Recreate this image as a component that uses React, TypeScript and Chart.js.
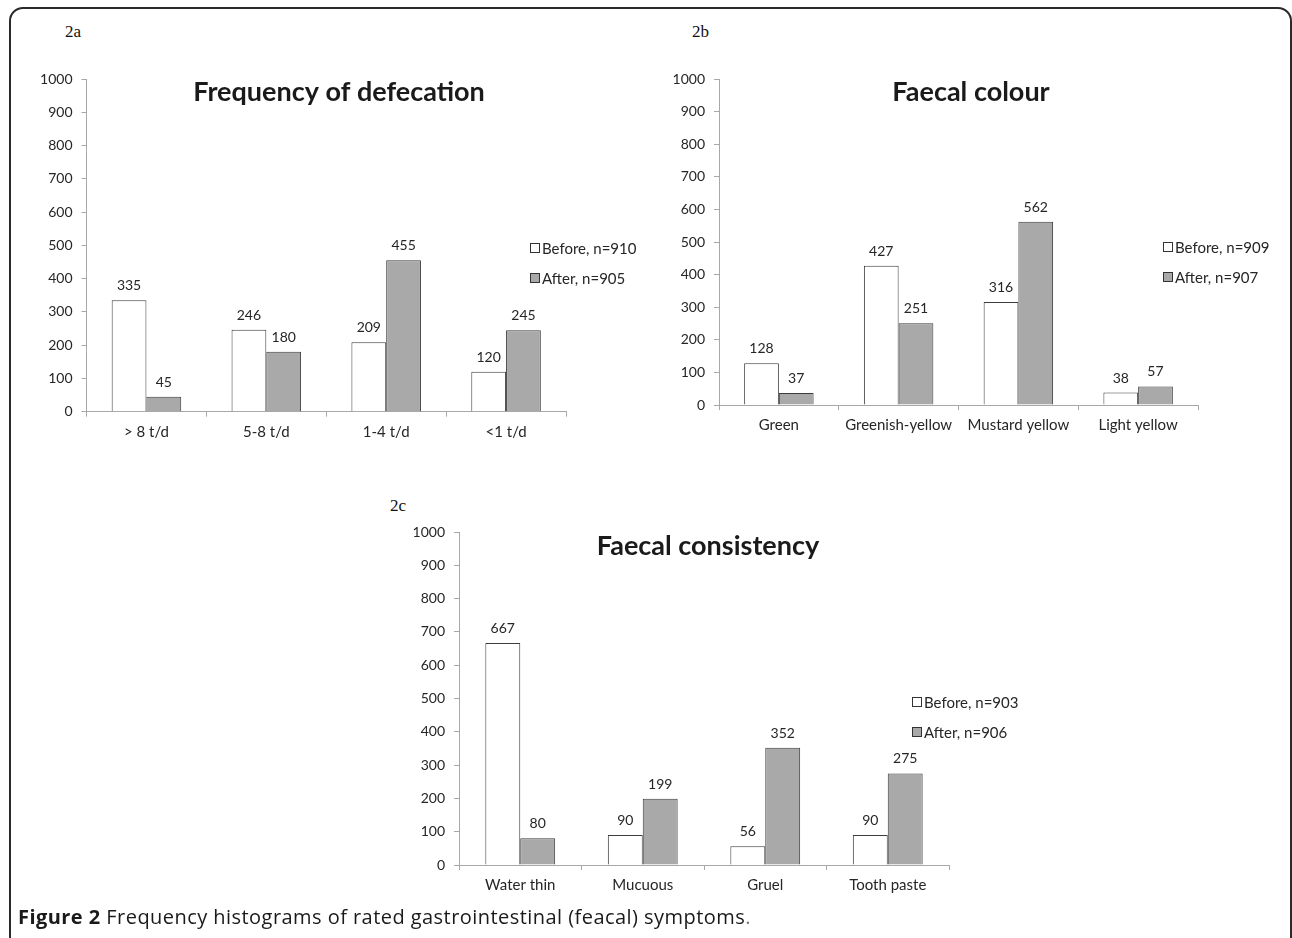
import React, { useEffect, useRef } from "react";
import { Chart, registerables } from "chart.js";

Chart.register(...registerables);

// ---------- data ----------
const categoriesA = ["> 8 t/d", "5-8 t/d", "1-4 t/d", "<1 t/d"];
const beforeA = [335, 246, 209, 120];
const afterA = [45, 180, 455, 245];
const seriesA = ["Before, n=910", "After, n=905"];
const titleA = "Frequency of defecation";

const categoriesB = ["Green", "Greenish-yellow", "Mustard yellow", "Light yellow"];
const beforeB = [128, 427, 316, 38];
const afterB = [37, 251, 562, 57];
const seriesB = ["Before, n=909", "After, n=907"];
const titleB = "Faecal colour";

const categoriesC = ["Water thin", "Mucuous", "Gruel", "Tooth paste"];
const beforeC = [667, 90, 56, 90];
const afterC = [80, 199, 352, 275];
const seriesC = ["Before, n=903", "After, n=906"];
const titleC = "Faecal consistency";

const yMin = 0;
const yMax = 1000;
const yStep = 100;

// ---------- styles ----------
const FONT = "Lato";
const TEXT = "#262626";
const AXIS = "#a8a8a8";
const BEFORE_FILL = "#ffffff";
const AFTER_FILL = "#a9a9a9";
const BAR_BORDER = "#3c3c3c";

const valueLabelPlugin = {
  id: "valueLabels",
  afterDatasetsDraw(chart: any) {
    const ctx = chart.ctx;
    ctx.save();
    ctx.font = `14px ${FONT}`;
    ctx.fillStyle = TEXT;
    ctx.textAlign = "center";
    ctx.textBaseline = "alphabetic";
    chart.data.datasets.forEach((ds: any, i: number) => {
      const meta = chart.getDatasetMeta(i);
      meta.data.forEach((el: any, j: number) => {
        ctx.fillText(String(ds.data[j]), el.x, el.y - 10);
      });
    });
    ctx.restore();
  },
};

const boxLegendPlugin = {
  id: "boxLegend",
  afterDraw(chart: any, _args: any, opts: any) {
    const ctx = chart.ctx;
    ctx.save();
    ctx.font = `15px ${FONT}`;
    ctx.textAlign = "left";
    ctx.textBaseline = "middle";
    chart.data.datasets.forEach((ds: any, i: number) => {
      const y = opts.y + i * opts.gap;
      ctx.fillStyle = ds.backgroundColor;
      ctx.fillRect(opts.x, y - 5, 10, 10);
      ctx.strokeStyle = "#333";
      ctx.lineWidth = 1;
      ctx.strokeRect(opts.x + 0.5, y - 4.5, 9, 9);
      ctx.fillStyle = TEXT;
      ctx.fillText(ds.label, opts.x + 12, y + 1);
    });
    ctx.restore();
  },
};

const innerTitlePlugin = {
  id: "innerTitle",
  afterDraw(chart: any, _args: any, opts: any) {
    const ctx = chart.ctx;
    ctx.save();
    ctx.font = `bold 27px ${FONT}`;
    ctx.fillStyle = "#1a1a1a";
    ctx.textAlign = "center";
    ctx.textBaseline = "middle";
    ctx.fillText(opts.text, opts.x, opts.y);
    ctx.restore();
  },
};

type Cfg = {
  categories: string[];
  before: number[];
  after: number[];
  series: string[];
  title: string;
  left: number;
  top: number;
  width: number;
  height: number;
  yWidth: number;
  padTop: number;
  padRight: number;
  padBottom: number;
  catPct: number;
  legendX: number;
  legendY: number;
  titleX: number;
  titleY: number;
};

function BarPanel({ cfg }: { cfg: Cfg }) {
  const ref = useRef<HTMLCanvasElement | null>(null);
  useEffect(() => {
    if (!ref.current) return;
    const chart = new Chart(ref.current, {
      type: "bar",
      data: {
        labels: cfg.categories,
        datasets: [
          {
            label: cfg.series[0],
            data: cfg.before,
            backgroundColor: BEFORE_FILL,
            borderColor: BAR_BORDER,
            borderWidth: 1,
            categoryPercentage: cfg.catPct,
            barPercentage: 1,
          },
          {
            label: cfg.series[1],
            data: cfg.after,
            backgroundColor: AFTER_FILL,
            borderColor: BAR_BORDER,
            borderWidth: 1,
            categoryPercentage: cfg.catPct,
            barPercentage: 1,
          },
        ],
      },
      options: {
        animation: false,
        responsive: false,
        maintainAspectRatio: false,
        layout: {
          padding: { left: 0, top: cfg.padTop, right: cfg.padRight, bottom: cfg.padBottom },
        },
        scales: {
          x: {
            grid: {
              display: true,
              drawOnChartArea: false,
              drawTicks: true,
              tickLength: 5,
              color: AXIS,
              offset: true,
            },
            border: { display: true, color: AXIS, width: 1 },
            ticks: {
              font: { family: FONT, size: 15 },
              color: TEXT,
              padding: 6,
              maxRotation: 0,
              autoSkip: false,
            },
            afterFit: (s: any) => {
              s.height = 30;
            },
          },
          y: {
            min: yMin,
            max: yMax,
            grid: {
              display: true,
              drawOnChartArea: false,
              drawTicks: true,
              tickLength: 5,
              color: AXIS,
            },
            border: { display: true, color: AXIS, width: 1 },
            ticks: {
              stepSize: yStep,
              font: { family: FONT, size: 14 },
              color: TEXT,
              padding: 9,
              callback: (v: any) => String(v),
            },
            afterFit: (s: any) => {
              s.width = cfg.yWidth;
            },
          },
        },
        plugins: {
          legend: { display: false },
          tooltip: { enabled: false },
          title: { display: false },
          boxLegend: { x: cfg.legendX, y: cfg.legendY, gap: 30 },
          innerTitle: { text: cfg.title, x: cfg.titleX, y: cfg.titleY },
        } as any,
      },
      plugins: [valueLabelPlugin, boxLegendPlugin, innerTitlePlugin],
    } as any);
    return () => chart.destroy();
  }, [cfg]);
  return (
    <canvas
      ref={ref}
      width={cfg.width}
      height={cfg.height}
      style={{
        position: "absolute",
        left: cfg.left,
        top: cfg.top,
        width: cfg.width,
        height: cfg.height,
      }}
    />
  );
}

// chart areas (page coords): A: x 86.5-566, y 79-411.7 ; B: x 719-1198, y 79-405 ; C: x 459-949, y 532-865
const cfgA: Cfg = {
  categories: categoriesA,
  before: beforeA,
  after: afterA,
  series: seriesA,
  title: titleA,
  left: 20,
  top: 50,
  width: 630,
  height: 410,
  yWidth: 66.5,
  padTop: 29,
  padRight: 84,
  padBottom: 18.3,
  catPct: 0.58,
  legendX: 510,
  legendY: 198,
  titleX: 319,
  titleY: 42,
};

const cfgB: Cfg = {
  categories: categoriesB,
  before: beforeB,
  after: afterB,
  series: seriesB,
  title: titleB,
  left: 650,
  top: 50,
  width: 635,
  height: 400,
  yWidth: 69,
  padTop: 29,
  padRight: 87,
  padBottom: 15,
  catPct: 0.58,
  legendX: 513,
  legendY: 197,
  titleX: 321,
  titleY: 42,
};

const cfgC: Cfg = {
  categories: categoriesC,
  before: beforeC,
  after: afterC,
  series: seriesC,
  title: titleC,
  left: 380,
  top: 500,
  width: 660,
  height: 410,
  yWidth: 79,
  padTop: 32,
  padRight: 91,
  padBottom: 15,
  catPct: 0.57,
  legendX: 532,
  legendY: 202,
  titleX: 328,
  titleY: 46,
};

const panelLabel: React.CSSProperties = {
  position: "absolute",
  fontFamily: "'Liberation Serif', 'Times New Roman', serif",
  fontSize: 17,
  lineHeight: "17px",
  color: "#111",
  whiteSpace: "nowrap",
};

export default function App() {
  return (
    <div
      style={{
        position: "fixed",
        left: 0,
        top: 0,
        width: 1292,
        height: 938,
        overflow: "hidden",
        background: "#ffffff",
      }}
    >
      <div
        style={{
          position: "absolute",
          left: 9,
          top: 7,
          width: 1279,
          height: 1000,
          border: "2px solid #2a2a2a",
          borderRadius: 14,
        }}
      />
      <div style={{ ...panelLabel, left: 65, top: 23 }}>2a</div>
      <div style={{ ...panelLabel, left: 692, top: 23 }}>2b</div>
      <div style={{ ...panelLabel, left: 390, top: 497 }}>2c</div>
      <BarPanel cfg={cfgA} />
      <BarPanel cfg={cfgB} />
      <BarPanel cfg={cfgC} />
      <div
        style={{
          position: "absolute",
          left: 18,
          top: 907,
          fontFamily: "'Open Sans', 'Noto Sans', sans-serif",
          fontSize: 20,
          lineHeight: "20px",
          letterSpacing: "0.45px",
          color: "#1a1a1a",
          whiteSpace: "nowrap",
        }}
      >
        <b>Figure 2</b> Frequency histograms of rated gastrointestinal (feacal) symptoms
        <span style={{ color: "#777" }}>.</span>
      </div>
    </div>
  );
}
